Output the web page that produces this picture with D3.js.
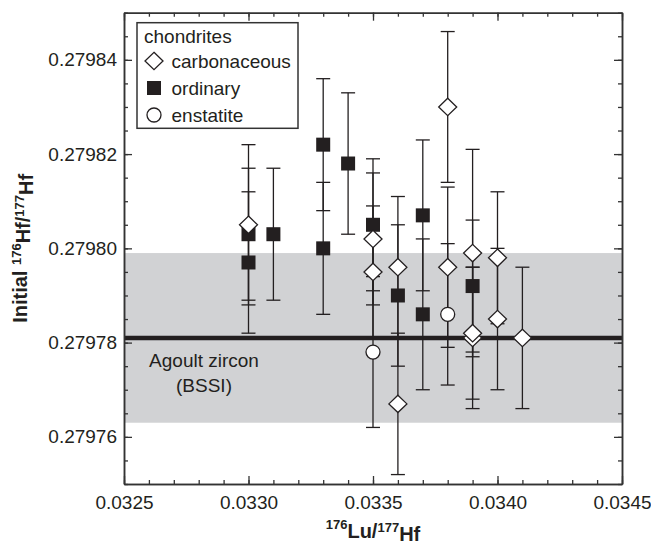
<!DOCTYPE html>
<html><head><meta charset="utf-8">
<script src="https://cdn.jsdelivr.net/npm/d3@7/dist/d3.min.js"></script>
<style>
body{margin:0;background:#fff}
text{font-family:"Liberation Sans",Arial,Helvetica,sans-serif;fill:#231f20}
</style>
</head><body>
<svg id="c" width="651" height="544"></svg>
<script>
// ---- data: [Lu/Hf, initial Hf/Hf, 2-sigma error] ----
const carbonaceous = [
  [0.0330, 0.279805, 0.000017],
  [0.0335, 0.279802, 0.000014],
  [0.0335, 0.279795, 0.000014],
  [0.0336, 0.279796, 0.000015],
  [0.0336, 0.279767, 0.000015],
  [0.0338, 0.279830, 0.000016],
  [0.0338, 0.279796, 0.000017],
  [0.0339, 0.279799, 0.000022],
  [0.0339, 0.279781, 0.000015],
  [0.0339, 0.279782, 0.000014],
  [0.0340, 0.279798, 0.000014],
  [0.0340, 0.279785, 0.000015],
  [0.0341, 0.279781, 0.000015]
];
const ordinary = [
  [0.0330, 0.279803, 0.000014],
  [0.0330, 0.279797, 0.000015],
  [0.0331, 0.279803, 0.000014],
  [0.0333, 0.279822, 0.000014],
  [0.0333, 0.279800, 0.000014],
  [0.0334, 0.279818, 0.000015],
  [0.0335, 0.279805, 0.000014],
  [0.0336, 0.279790, 0.000015],
  [0.0337, 0.279807, 0.000016],
  [0.0337, 0.279786, 0.000016],
  [0.0339, 0.279792, 0.000014]
];
const enstatite = [
  [0.0335, 0.279778, 0.000016],
  [0.0338, 0.279786, 0.000015]
];
const bssi = 0.279781, bssiErr = 0.000018;
const xTicks = [0.0325, 0.0330, 0.0335, 0.0340, 0.0345];
const yTicks = [0.27976, 0.27978, 0.27980, 0.27982, 0.27984];
const legendItems = ["carbonaceous", "ordinary", "enstatite"];

// ---- layout ----
const L = 124, R = 622, T = 12.7, B = 484;
const svg = d3.select("#c");
const x = d3.scaleLinear().domain([0.0325, 0.0345]).range([L, R]);
const y = d3.scaleLinear().domain([0.27975, 0.27985]).range([B, T]);
const ink = "#231f20";

// band
svg.append("rect").attr("x", L).attr("width", R - L)
  .attr("y", y(bssi + bssiErr)).attr("height", y(bssi - bssiErr) - y(bssi + bssiErr))
  .attr("fill", "#d1d2d4");
svg.append("line").attr("x1", L).attr("x2", R).attr("y1", y(bssi)).attr("y2", y(bssi))
  .attr("stroke", ink).attr("stroke-width", 4.5);
const ag = svg.append("text").attr("text-anchor", "middle").style("font-size", "19px");
ag.append("tspan").attr("x", 204).attr("y", 366.5).text("Agoult zircon");
ag.append("tspan").attr("x", 204).attr("y", 391.5).text("(BSSI)");

// error bars
const all = ordinary.concat(enstatite, carbonaceous);
const eb = svg.append("g").attr("stroke", ink).attr("stroke-width", 1.3);
all.forEach(d => {
  const cx = x(d[0]);
  eb.append("line").attr("x1", cx).attr("x2", cx).attr("y1", y(d[1] + d[2])).attr("y2", y(d[1] - d[2]));
  [d[1] + d[2], d[1] - d[2]].forEach(v => {
    eb.append("line").attr("x1", cx - 7).attr("x2", cx + 7).attr("y1", y(v)).attr("y2", y(v));
  });
});

// markers
const diamondPath = "M0,-8.7L9,0L0,8.7L-9,0Z";
function square(g, cx, cy) {
  g.append("rect").attr("x", cx - 7).attr("y", cy - 7).attr("width", 14).attr("height", 14)
    .attr("fill", ink);
}
function circle(g, cx, cy) {
  g.append("circle").attr("cx", cx).attr("cy", cy).attr("r", 7)
    .attr("fill", "#fff").attr("stroke", ink).attr("stroke-width", 1.3);
}
function diamond(g, cx, cy) {
  g.append("path").attr("d", diamondPath).attr("transform", `translate(${cx},${cy})`)
    .attr("fill", "#fff").attr("stroke", ink).attr("stroke-width", 1.3);
}
const mk = svg.append("g");
ordinary.forEach(d => square(mk, x(d[0]), y(d[1])));
enstatite.forEach(d => circle(mk, x(d[0]), y(d[1])));
carbonaceous.forEach(d => diamond(mk, x(d[0]), y(d[1])));

// axes
const fmtX = d3.format(".4f"), fmtY = d3.format(".5f");
const axColor = "#333";
function styleAxis(g) {
  g.selectAll("path.domain").attr("stroke", axColor).attr("stroke-width", 1.5);
  g.selectAll(".tick line").attr("stroke", axColor).attr("stroke-width", 1.3);
  g.selectAll(".tick text").style("font-size", "19px").attr("fill", ink)
    .style("font-family", '"Liberation Sans",Arial,sans-serif');
}
const minorX = d3.range(0, 21).map(i => 0.0325 + i * 0.0001);
const minorY = d3.range(0, 21).map(i => 0.27975 + i * 0.000005);

svg.append("g").attr("transform", `translate(0,${B})`)
  .call(d3.axisBottom(x).tickValues(minorX).tickSize(-4).tickSizeOuter(0).tickFormat(""))
  .call(styleAxis);
svg.append("g").attr("transform", `translate(0,${T})`)
  .call(d3.axisTop(x).tickValues(minorX).tickSize(-4).tickSizeOuter(0).tickFormat(""))
  .call(styleAxis);
svg.append("g").attr("transform", `translate(${L},0)`)
  .call(d3.axisLeft(y).tickValues(minorY).tickSize(-4).tickSizeOuter(0).tickFormat(""))
  .call(styleAxis);
svg.append("g").attr("transform", `translate(${R},0)`)
  .call(d3.axisRight(y).tickValues(minorY).tickSize(-4).tickSizeOuter(0).tickFormat(""))
  .call(styleAxis);

svg.append("g").attr("transform", `translate(0,${B})`)
  .call(d3.axisBottom(x).tickValues(xTicks).tickSize(-8).tickSizeOuter(0).tickPadding(11.5).tickFormat(fmtX))
  .call(styleAxis);
svg.append("g").attr("transform", `translate(0,${T})`)
  .call(d3.axisTop(x).tickValues(xTicks).tickSize(-8).tickSizeOuter(0).tickFormat(""))
  .call(styleAxis);
svg.append("g").attr("transform", `translate(${L},0)`)
  .call(d3.axisLeft(y).tickValues(yTicks).tickSize(-8).tickSizeOuter(0).tickPadding(7).tickFormat(fmtY))
  .call(styleAxis);
svg.append("g").attr("transform", `translate(${R},0)`)
  .call(d3.axisRight(y).tickValues(yTicks).tickSize(-8).tickSizeOuter(0).tickFormat(""))
  .call(styleAxis);

// axis titles
const xt = svg.append("text").attr("x", (L + R) / 2).attr("y", 535).attr("text-anchor", "middle")
  .style("font-size", "20px").style("font-weight", "bold");
xt.append("tspan").attr("dy", "-0.45em").style("font-size", "13px").text("176");
xt.append("tspan").attr("dy", "0.45em").text("Lu/");
xt.append("tspan").attr("dy", "-0.45em").style("font-size", "13px").text("177");
xt.append("tspan").attr("dy", "0.45em").text("Hf");

const yt = svg.append("text").attr("transform", `translate(27,${(T + B) / 2}) rotate(-90)`)
  .attr("text-anchor", "middle").style("font-size", "20px").style("font-weight", "bold");
yt.append("tspan").text("Initial ");
yt.append("tspan").attr("dy", "-0.45em").style("font-size", "13px").text("176");
yt.append("tspan").attr("dy", "0.45em").text("Hf/");
yt.append("tspan").attr("dy", "-0.45em").style("font-size", "13px").text("177");
yt.append("tspan").attr("dy", "0.45em").text("Hf");

// legend
const lg = svg.append("g");
lg.append("rect").attr("x", 137).attr("y", 22.7).attr("width", 161).attr("height", 105.6)
  .attr("fill", "#fff").attr("stroke", axColor).attr("stroke-width", 1.5);
lg.append("text").attr("x", 144).attr("y", 42.5).style("font-size", "19px").text("chondrites");
const drawers = [diamond, square, circle];
legendItems.forEach((name, i) => {
  const cy = 61 + i * 27;
  drawers[i](lg, 154, cy);
  lg.append("text").attr("x", 171.5).attr("y", cy + 6.5).style("font-size", "19px").text(name);
});
</script>
</body></html>
